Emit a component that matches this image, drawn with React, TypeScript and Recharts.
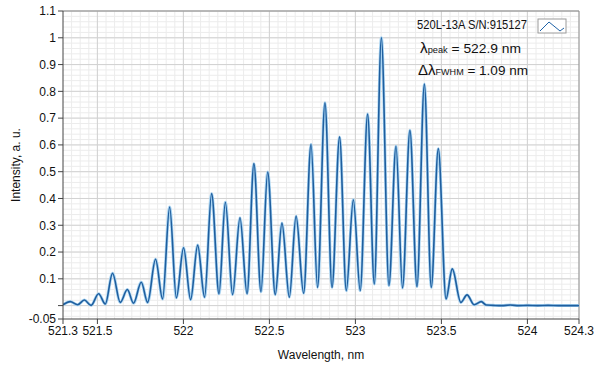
import React from 'react';
import { LineChart, Line, XAxis, YAxis, CartesianGrid, ReferenceLine, Customized, Label } from 'recharts';

const wavelengths = [
  521.300, 521.342, 521.385, 521.424, 521.463, 521.507, 521.546, 521.588, 521.633, 521.674,
  521.710, 521.755, 521.792, 521.838, 521.879, 521.920, 521.959, 522.001, 522.042, 522.083,
  522.123, 522.164, 522.207, 522.244, 522.286, 522.329, 522.370, 522.410, 522.451, 522.490,
  522.534, 522.573, 522.616, 522.655, 522.699, 522.742, 522.780, 522.823, 522.864, 522.908,
  522.947, 522.988, 523.028, 523.071, 523.110, 523.151, 523.195, 523.236, 523.274, 523.317,
  523.358, 523.401, 523.441, 523.482, 523.527, 523.563, 523.613, 523.649, 523.691, 523.732,
  523.761, 523.800, 523.850, 523.900, 523.950, 524.000, 524.060, 524.120, 524.180, 524.240,
  524.300,
];

const intensities = [
  0.003, 0.015, 0.003, 0.021, 0.001, 0.044, 0.006, 0.121, 0.012, 0.060,
  0.009, 0.087, 0.012, 0.173, 0.025, 0.368, 0.029, 0.216, 0.022, 0.226,
  0.031, 0.418, 0.044, 0.386, 0.041, 0.328, 0.044, 0.530, 0.052, 0.499,
  0.041, 0.308, 0.031, 0.334, 0.046, 0.602, 0.068, 0.757, 0.068, 0.630,
  0.056, 0.395, 0.056, 0.715, 0.081, 1.000, 0.075, 0.595, 0.066, 0.655,
  0.071, 0.827, 0.068, 0.586, 0.025, 0.137, 0.012, 0.040, 0.003, 0.015,
  0.002, 0.001, 0.000, 0.002, 0.000, 0.001, 0.000, 0.001, 0.000, 0.000,
  0.000,
];

const xTicks = [521.3, 521.5, 522, 522.5, 523, 523.5, 524, 524.3];
const yTicks = [-0.05, 0, 0.1, 0.2, 0.3, 0.4, 0.5, 0.6, 0.7, 0.8, 0.9, 1, 1.1];
const xMinorStep = 0.05;
const yMinorStep = 0.02;

const seriesName = '520L-13A S/N:915127';
const peakText = '522.9 nm';
const fwhmText = '1.09 nm';

const X_MIN = 521.3;
const X_MAX = 524.3;
const Y_MIN = -0.05;
const Y_MAX = 1.1;

const data = wavelengths.map((w, i) => ({ w, y: intensities[i] }));

const FONT = "'Liberation Sans Narrow', 'Liberation Sans', 'DejaVu Sans Condensed', sans-serif";

function range(start: number, end: number, step: number) {
  const out: number[] = [];
  const n = Math.round((end - start) / step);
  for (let i = 0; i <= n; i++) out.push(+(start + i * step).toFixed(4));
  return out;
}

const xMinor = range(X_MIN + 0.05, X_MAX, xMinorStep);
const yMinor = range(-0.04, Y_MAX, yMinorStep);
const xMajor = [521.5, 522, 522.5, 523, 523.5, 524];
const yMajor = range(0, 1.1, 0.1);

const mapX = (offset: any, v: number) => offset.left + ((v - X_MIN) / (X_MAX - X_MIN)) * offset.width;
const mapY = (offset: any, v: number) => offset.top + ((Y_MAX - v) / (Y_MAX - Y_MIN)) * offset.height;

const LegendBlock = () => (
  <g fontFamily={FONT} fill="#111">
    <text x={417} y={26} fontSize={12.5} dominantBaseline="middle" textLength={110} lengthAdjust="spacingAndGlyphs">
      {seriesName}
    </text>
    <rect x={538} y={19} width={28} height={14} fill="#fff" stroke="#9a9a9a" strokeWidth={1} />
    <polyline points="540,31 549,22 560,31 564,28" fill="none" stroke="#1f63a8" strokeWidth={1} />
    <text x={420} y={49} fontSize={13.5} dominantBaseline="middle" textLength={101} lengthAdjust="spacingAndGlyphs">
      <tspan fontSize={15}>λ</tspan>
      <tspan fontSize={9} dy={2}>peak</tspan>
      <tspan dy={-2}>{' = ' + peakText}</tspan>
    </text>
    <text x={418} y={71} fontSize={13.5} dominantBaseline="middle" textLength={110} lengthAdjust="spacingAndGlyphs">
      <tspan fontSize={15}>Δλ</tspan>
      <tspan fontSize={9} dy={2}>FWHM</tspan>
      <tspan dy={-2}>{' = ' + fwhmText}</tspan>
    </text>
  </g>
);

export default function App() {
  return (
    <div style={{ position: 'absolute', left: 0, top: 0, width: 599, height: 370, background: '#fff' }}>
      <LineChart width={599} height={370} data={data} margin={{ top: 11, right: 20, bottom: 0, left: 0 }}>
        <CartesianGrid
          stroke="#ececec"
          strokeWidth={1}
          verticalCoordinatesGenerator={({ offset }: any) => xMinor.map((v) => mapX(offset, v))}
          horizontalCoordinatesGenerator={({ offset }: any) => yMinor.map((v) => mapY(offset, v))}
        />
        <CartesianGrid
          stroke="#d2d2d2"
          strokeWidth={1}
          verticalCoordinatesGenerator={({ offset }: any) => xMajor.map((v) => mapX(offset, v))}
          horizontalCoordinatesGenerator={({ offset }: any) => yMajor.map((v) => mapY(offset, v))}
        />
        <XAxis
          dataKey="w"
          type="number"
          domain={[X_MIN, X_MAX]}
          ticks={xTicks}
          allowDataOverflow
          height={51}
          stroke="#444"
          tickSize={5}
          tickMargin={2}
          tick={{ fill: '#111', fontSize: 12, fontFamily: FONT }}
          tickFormatter={(v: number) => String(v)}
        >
          <Label
            value="Wavelength, nm"
            position="insideBottom"
            offset={11}
            style={{ fill: '#111', fontSize: 12, fontFamily: FONT }}
          />
        </XAxis>
        <YAxis
          type="number"
          domain={[Y_MIN, Y_MAX]}
          ticks={yTicks}
          allowDataOverflow
          width={63}
          stroke="#444"
          tickSize={5}
          tickMargin={2}
          tick={{ fill: '#111', fontSize: 12, fontFamily: FONT }}
          tickFormatter={(v: number) => (v === 0 ? '' : String(v))}
        >
          <Label
            content={({ viewBox }: any) => {
              const cx = viewBox.x + 17;
              const cy = viewBox.y + viewBox.height / 2;
              return (
                <text
                  x={cx}
                  y={cy}
                  transform={`rotate(-90 ${cx} ${cy})`}
                  textAnchor="middle"
                  dominantBaseline="middle"
                  fill="#111"
                  fontSize={12}
                  fontFamily={FONT}
                >
                  Intensity, a. u.
                </text>
              );
            }}
          />
        </YAxis>
        <ReferenceLine y={Y_MAX} stroke="#8c8c8c" strokeWidth={1} ifOverflow="visible" />
        <ReferenceLine x={X_MAX} stroke="#8c8c8c" strokeWidth={1} ifOverflow="visible" />
        <Line
          type="monotone"
          dataKey="y"
          stroke="#a9d4f2"
          strokeWidth={3}
          dot={false}
          activeDot={false}
          isAnimationActive={false}
        />
        <Line
          type="monotone"
          dataKey="y"
          stroke="#1f5e9e"
          strokeWidth={1.6}
          dot={false}
          activeDot={false}
          isAnimationActive={false}
        />
        <Customized component={LegendBlock} />
      </LineChart>
    </div>
  );
}
